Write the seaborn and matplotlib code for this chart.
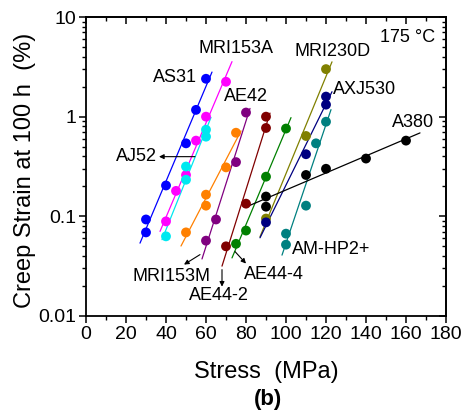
import numpy as np
import pandas as pd
import matplotlib
matplotlib.use("Agg")
import matplotlib.pyplot as plt
import seaborn as sns
from matplotlib.ticker import MultipleLocator, LogLocator, FixedLocator, FixedFormatter, NullFormatter

# ---------------- data ----------------
alloys = ["AS31", "MRI153A", "AJ52", "AE42", "MRI153M", "AE44-2", "AE44-4",
          "MRI230D", "AXJ530", "AM-HP2+", "A380"]
colors = ["#0000FF", "#FF00FF", "#00E8F0", "#FF8000", "#800080", "#800000",
          "#008000", "#808000", "#000080", "#008080", "#000000"]

AS31_stress = [30, 30, 40, 50, 55, 60]
AS31_strain = [0.093, 0.069, 0.204, 0.54, 1.17, 2.4]
MRI153A_stress = [40, 45, 50, 55, 60, 70]
MRI153A_strain = [0.089, 0.18, 0.26, 0.575, 1.0, 2.24]
AJ52_stress = [40, 50, 50, 60, 60]
AJ52_strain = [0.063, 0.233, 0.316, 0.63, 0.74]
AE42_stress = [50, 60, 60, 70, 75]
AE42_strain = [0.069, 0.128, 0.165, 0.31, 0.69]
MRI153M_stress = [60, 65, 75, 80]
MRI153M_strain = [0.057, 0.093, 0.35, 1.1]
AE44_2_stress = [70, 80, 90, 90]
AE44_2_strain = [0.05, 0.134, 0.77, 1.0]
AE44_4_stress = [75, 80, 90, 100]
AE44_4_strain = [0.053, 0.072, 0.25, 0.76]
MRI230D_stress = [90, 110, 120]
MRI230D_strain = [0.095, 0.64, 3.0]
AXJ530_stress = [90, 110, 120, 120]
AXJ530_strain = [0.087, 0.42, 1.32, 1.59]
AMHP2_stress = [100, 100, 110, 115, 120]
AMHP2_strain = [0.052, 0.067, 0.128, 0.54, 0.89]
A380_stress = [90, 90, 110, 120, 140, 160]
A380_strain = [0.125, 0.158, 0.26, 0.30, 0.38, 0.575]

# stress range covered by each exponential fit line
fit_lo = [27, 37, 38, 47.5, 58, 68, 73, 87, 87, 98, 80]
fit_hi = [63, 73, 62.5, 77.5, 82, 92, 102.5, 123, 123, 122.5, 167]

stress_sets = [AS31_stress, MRI153A_stress, AJ52_stress, AE42_stress, MRI153M_stress,
               AE44_2_stress, AE44_4_stress, MRI230D_stress, AXJ530_stress,
               AMHP2_stress, A380_stress]
strain_sets = [AS31_strain, MRI153A_strain, AJ52_strain, AE42_strain, MRI153M_strain,
               AE44_2_strain, AE44_4_strain, MRI230D_strain, AXJ530_strain,
               AMHP2_strain, A380_strain]

x_ticks = [0, 20, 40, 60, 80, 100, 120, 140, 160, 180]
y_ticks = [0.01, 0.1, 1, 10]
y_ticklabels = ["0.01", "0.1", "1", "10"]

# ---------------- frames ----------------
pts = []
lines = []
for name, s, e, lo, hi in zip(alloys, stress_sets, strain_sets, fit_lo, fit_hi):
    for a, b in zip(s, e):
        pts.append((name, a, b))
    k, c = np.polyfit(np.array(s, float), np.log10(e), 1)
    for xv in (lo, hi):
        lines.append((name, xv, 10 ** (k * xv + c)))
pts_df = pd.DataFrame(pts, columns=["alloy", "stress", "strain"])
fit_df = pd.DataFrame(lines, columns=["alloy", "stress", "strain"])
palette = dict(zip(alloys, colors))

# ---------------- plot ----------------
sns.set_style("ticks")
plt.rcParams["font.family"] = ["Liberation Sans", "DejaVu Sans"]
plt.rcParams["text.color"] = "black"
plt.rcParams["axes.labelcolor"] = "black"
plt.rcParams["xtick.color"] = "black"
plt.rcParams["ytick.color"] = "black"

fig = plt.figure(figsize=(4.66, 4.13), dpi=100)
ax = fig.add_axes([86 / 466, 1 - 316 / 413, 360 / 466, 299 / 413])

sns.lineplot(data=fit_df, x="stress", y="strain", hue="alloy", palette=palette,
             estimator=None, sort=False, legend=False, lw=0.9, ax=ax, zorder=2)
sns.scatterplot(data=pts_df, x="stress", y="strain", hue="alloy", palette=palette,
                s=50, linewidth=0, legend=False, ax=ax, zorder=3)

ax.set_yscale("log")
ax.set_xlim(0, 180)
ax.set_ylim(0.01, 10)
ax.xaxis.set_major_locator(FixedLocator(x_ticks))
ax.xaxis.set_minor_locator(MultipleLocator(10))
ax.yaxis.set_major_locator(FixedLocator(y_ticks))
ax.yaxis.set_major_formatter(FixedFormatter(y_ticklabels))
ax.yaxis.set_minor_locator(LogLocator(base=10, subs=np.arange(2, 10)))
ax.yaxis.set_minor_formatter(NullFormatter())

for sp in ax.spines.values():
    sp.set_visible(True)
    sp.set_linewidth(1.3)
    sp.set_color("black")

ax.tick_params(which="major", direction="out", length=5, width=1.1, labelsize=14,
               colors="black", pad=2)
ax.tick_params(which="minor", direction="out", length=2.8, width=1.0, colors="black")

# mirrored inward ticks on top and right
top = ax.secondary_xaxis("top")
top.xaxis.set_major_locator(FixedLocator(x_ticks))
top.xaxis.set_minor_locator(MultipleLocator(10))
top.tick_params(which="major", direction="in", length=5, width=1.1, labeltop=False)
top.tick_params(which="minor", direction="in", length=2.8, width=1.0)
top.spines["top"].set_linewidth(1.3)
right = ax.secondary_yaxis("right")
right.yaxis.set_major_locator(FixedLocator(y_ticks))
right.yaxis.set_minor_locator(LogLocator(base=10, subs=np.arange(2, 10)))
right.yaxis.set_minor_formatter(NullFormatter())
right.tick_params(which="major", direction="in", length=5, width=1.1, labelright=False)
right.tick_params(which="minor", direction="in", length=2.8, width=1.0)
right.spines["right"].set_linewidth(1.3)

ax.set_xlabel("Stress  (MPa)", fontsize=17)
ax.set_ylabel("Creep Strain at 100 h  (%)", fontsize=17)
ax.xaxis.set_label_coords(0.5, -0.15)
ax.yaxis.set_label_coords(-0.14, 0.488)
ax.text(0.506, -0.278, "(b)", transform=ax.transAxes, ha="center", va="center",
        fontsize=16, fontweight="bold")

# labels
fs = 13
ax.text(75.25, 4.81, "MRI153A", ha="center", va="center", fontsize=fs)
ax.text(55.5, 2.46, "AS31", ha="right", va="center", fontsize=fs)
ax.text(80, 1.587, "AE42", ha="center", va="center", fontsize=fs)
ax.text(123.25, 4.49, "MRI230D", ha="center", va="center", fontsize=fs)
ax.text(123.5, 1.866, "AXJ530", ha="left", va="center", fontsize=fs)
ax.text(163.5, 0.87, "A380", ha="center", va="center", fontsize=fs)
ax.text(174.5, 6.2, "175 °C", ha="right", va="center", fontsize=fs)
ax.text(103, 0.0463, "AM-HP2+", ha="left", va="center", fontsize=fs)
ax.text(35.5, 0.397, "AJ52", ha="right", va="center", fontsize=fs)
ax.text(43, 0.0248, "MRI153M", ha="center", va="center", fontsize=fs)
ax.text(66.5, 0.016, "AE44-2", ha="center", va="center", fontsize=fs)
ax.text(79, 0.026, "AE44-4", ha="left", va="center", fontsize=fs)

arrow = dict(arrowstyle="-|>", color="black", lw=0.8, mutation_scale=7,
             shrinkA=0, shrinkB=0)
ax.annotate("", xy=(36.5, 0.397), xytext=(54.5, 0.397), arrowprops=arrow)
ax.annotate("", xy=(49, 0.0328), xytext=(57, 0.0413), arrowprops=arrow)
ax.annotate("", xy=(68, 0.0197), xytext=(68, 0.0292), arrowprops=arrow)
ax.annotate("", xy=(80, 0.0336), xytext=(74.5, 0.0443), arrowprops=arrow)

fig.savefig("out.png", dpi=100)
